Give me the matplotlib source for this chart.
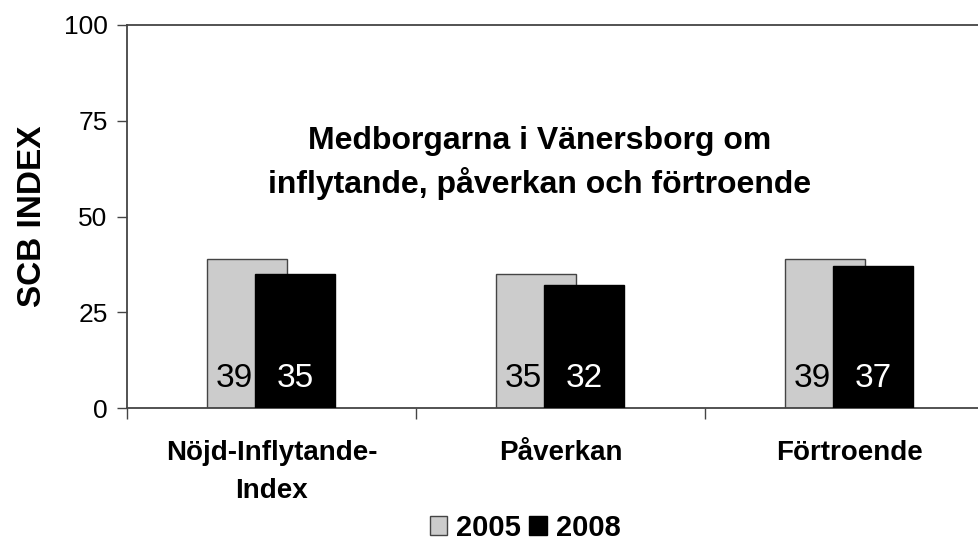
import matplotlib
matplotlib.use("Agg")
import matplotlib.pyplot as plt
import numpy as np
from matplotlib.patches import Patch

plt.rcParams['font.family'] = ['Liberation Sans', 'DejaVu Sans']

categories = ["Nöjd-Inflytande-\nIndex", "Påverkan", "Förtroende"]
years = ["2005", "2008"]
v2005 = [39, 35, 39]
v2008 = [35, 32, 37]
title = "Medborgarna i Vänersborg om\ninflytande, påverkan och förtroende"

fig = plt.figure(figsize=(9.79, 5.45), dpi=100)
W, H = 979, 545
ax = fig.add_axes([127 / W, (545 - 408) / H, (994 - 127) / W, (408 - 25) / H])

x = np.arange(len(categories)) + 0.5
bw = 80 / 289
off = 24 / 289
ax.bar(x - off, v2005, width=bw, color="#cccccc", edgecolor="#444444", linewidth=1.0, zorder=2)
ax.bar(x + off, v2008, width=bw, color="#000000", edgecolor="#000000", linewidth=1.0, zorder=3)

for xi, a, b in zip(x, v2005, v2008):
    ax.text(xi - 37 / 289, 7.6, str(a), ha="center", va="center", fontsize=24, color="black", zorder=4)
    ax.text(xi + off, 7.6, str(b), ha="center", va="center", fontsize=24, color="white", zorder=4)

ax.set_xlim(0, 3)
ax.set_ylim(0, 100)
ax.set_yticks([0, 25, 50, 75, 100])
ax.tick_params(axis="y", labelsize=19, length=7, width=1, color="#444444", pad=7, direction="out")
ax.set_xticks([0, 1, 2, 3])
ax.set_xticklabels([])
ax.tick_params(axis="x", length=8, width=1, color="#444444", direction="out")
ax.set_xticks(x, minor=True)
ax.set_xticklabels(categories, minor=True, fontsize=20, fontweight="bold", va="top", linespacing=1.6)
ax.tick_params(axis="x", which="minor", length=0, pad=23)

ax.spines["right"].set_visible(False)
for s in ["left", "bottom", "top"]:
    ax.spines[s].set_color("#444444")
    ax.spines[s].set_linewidth(1.3)

ax.set_ylabel("SCB INDEX", fontsize=24, fontweight="bold")
ax.yaxis.set_label_coords((48 - 127) / 867, 0.5)

fig.text(540 / W, 1 - 163 / H, title, ha="center", va="center", fontsize=23, fontweight="bold", linespacing=1.45)

handles = [Patch(facecolor="#cccccc", edgecolor="#444444", label=years[0]),
           Patch(facecolor="#000000", edgecolor="#000000", label=years[1])]
fig.legend(handles=handles, loc="center", bbox_to_anchor=(525 / W, 1 - 528 / H), ncol=2, frameon=False,
           prop={"size": 21, "weight": "bold"}, handlelength=0.6, handleheight=0.6, handletextpad=0.3,
           columnspacing=0.3)

fig.savefig("out.png", dpi=100)
